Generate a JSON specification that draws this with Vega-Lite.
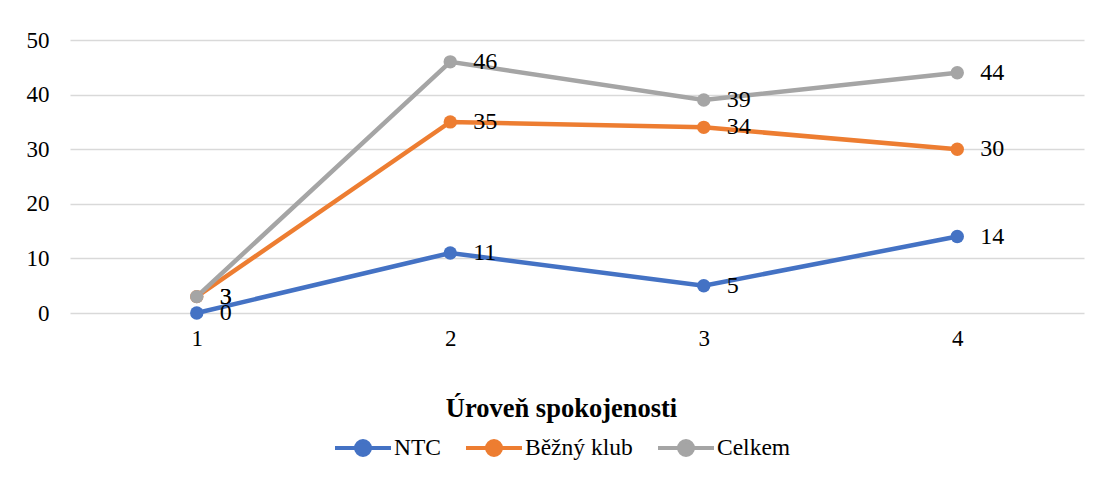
{
  "$schema": "https://vega.github.io/schema/vega-lite/v6.json",
  "width": 1014,
  "height": 273,
  "autosize": {"type": "none"},
  "padding": {"left": 70, "top": 40, "right": 15, "bottom": 165},
  "background": "white",
  "config": {
    "view": {"stroke": null},
    "font": "Liberation Serif",
    "axis": {
      "labelFont": "Liberation Serif",
      "labelFontSize": 23,
      "labelColor": "#000000",
      "titleFont": "Liberation Serif",
      "titleColor": "#000000",
      "domain": false,
      "ticks": false,
      "gridColor": "#D9D9D9",
      "gridWidth": 1.3
    }
  },
  "data": {
    "values": [
      {"uroven": "1", "serie": "NTC", "pocet": 0},
      {"uroven": "2", "serie": "NTC", "pocet": 11},
      {"uroven": "3", "serie": "NTC", "pocet": 5},
      {"uroven": "4", "serie": "NTC", "pocet": 14},
      {"uroven": "1", "serie": "Běžný klub", "pocet": 3},
      {"uroven": "2", "serie": "Běžný klub", "pocet": 35},
      {"uroven": "3", "serie": "Běžný klub", "pocet": 34},
      {"uroven": "4", "serie": "Běžný klub", "pocet": 30},
      {"uroven": "1", "serie": "Celkem", "pocet": 3},
      {"uroven": "2", "serie": "Celkem", "pocet": 46},
      {"uroven": "3", "serie": "Celkem", "pocet": 39},
      {"uroven": "4", "serie": "Celkem", "pocet": 44}
    ]
  },
  "encoding": {
    "x": {
      "field": "uroven",
      "type": "ordinal",
      "sort": ["1", "2", "3", "4"],
      "scale": {"type": "point", "padding": 0.5},
      "axis": {
        "labelAngle": 0,
        "grid": false,
        "labelPadding": 14,
        "title": "Úroveň spokojenosti",
        "titleFontSize": 26.5,
        "titleFontWeight": "bold",
        "titlePadding": 45,
        "titleX": 491
      }
    },
    "y": {
      "field": "pocet",
      "type": "quantitative",
      "scale": {"domain": [0, 50], "nice": false},
      "axis": {"values": [0, 10, 20, 30, 40, 50], "title": null, "labelPadding": 21, "grid": true}
    },
    "color": {
      "field": "serie",
      "type": "nominal",
      "sort": ["NTC", "Běžný klub", "Celkem"],
      "scale": {"domain": ["NTC", "Běžný klub", "Celkem"], "range": ["#4472C4", "#ED7D31", "#A5A5A5"]},
      "legend": {
        "title": null,
        "orient": "none",
        "direction": "horizontal",
        "legendX": 263,
        "legendY": 378,
        "symbolType": "M-1,0L1,0M-0.25,0A0.25,0.25,0,1,1,0.25,0A0.25,0.25,0,1,1,-0.25,0Z",
        "symbolSize": 3136,
        "symbolStrokeWidth": 4,
        "labelFont": "Liberation Serif",
        "labelFontSize": 23.5,
        "labelColor": "#000000",
        "labelOffset": 1,
        "columnPadding": 17,
        "encode": {
          "symbols": {
            "update": {
              "fill": {"scale": "color", "field": "value"},
              "stroke": {"scale": "color", "field": "value"},
              "opacity": {"value": 1}
            }
          }
        }
      }
    }
  },
  "layer": [
    {
      "mark": {"type": "line", "strokeWidth": 4.5, "point": {"filled": true, "size": 180, "opacity": 1}}
    },
    {
      "mark": {"type": "text", "align": "left", "baseline": "middle", "dx": 23, "fontSize": 24, "font": "Liberation Serif", "color": "#000000"},
      "encoding": {
        "text": {"field": "pocet", "type": "quantitative"},
        "color": {"value": "#000000"}
      }
    }
  ]
}
